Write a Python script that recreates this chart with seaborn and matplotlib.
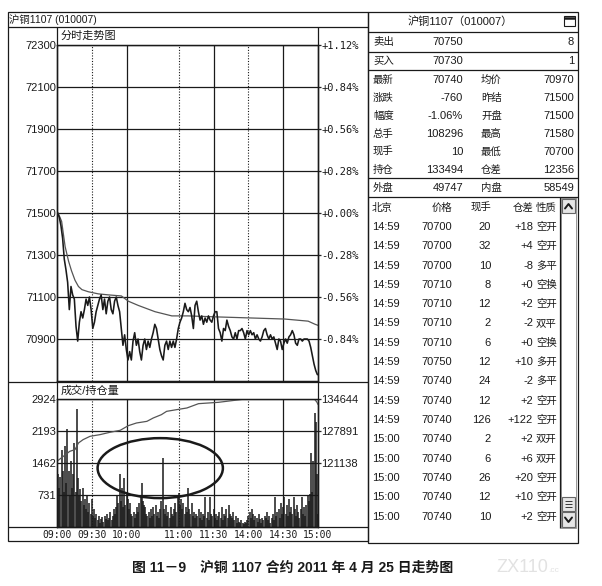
import numpy as np
import matplotlib.pyplot as plt
from matplotlib.patches import Rectangle, Ellipse
import seaborn as sns

W, H = 602, 586
INK = '#1a1a1a'

# ---- data ----
# price, sampled roughly every 1.44 trading minutes from 09:00 to 15:00
price_close = [
    71500, 71480, 71440, 71380, 71280, 71230, 71170, 71040, 71150, 71110,
    71090, 70960, 70890, 70980, 71030, 71000, 71040, 71090, 71060, 71100,
    71040, 70950, 70980, 71030, 71060, 71090, 71110, 71040, 71090, 71020,
    71080, 71100, 71040, 71020, 71080, 71100, 71060, 71030, 70950, 70870,
    70920, 70850, 70800, 70840, 70800, 70890, 70930, 70870, 70900, 70840,
    70800, 70870, 70900, 70850, 70890, 70860, 70900, 70930, 70970, 70950,
    70900, 70850, 70820, 70800, 70870, 70890, 70850, 70890, 70860, 70890,
    70860, 70900, 70950, 70980, 71000, 71030, 71070, 71040,
    71030, 71050, 71010, 70950, 71060, 71080, 71030, 70990, 71010, 70970,
    71000, 70980, 71010, 70990, 70980, 71010, 71030, 71030, 70950, 70930,
    70890, 70950, 70940, 70990, 70960, 70940, 70910, 70900, 70930, 70900,
    70940, 70940, 70950, 70930, 70900, 70940, 70920, 70940, 70920, 70930,
    70900, 70920, 70900, 70890, 70910, 70940, 70950, 70920, 70900, 70920,
    70900, 70910, 70880, 70850, 70900, 70890, 70850, 70880, 70900, 70880,
    70910, 70920, 70940, 70920, 70880, 70870, 70900, 70900, 70890, 70900,
    70900, 70900, 70890, 70860, 70820, 70780, 70750, 70730,
]
price_minutes = np.linspace(0.5, 224.5, len(price_close))

avg_minutes = [0, 1, 4, 7, 10, 12.5, 15.5, 18.5, 21.5, 27, 35.5, 44.5, 55.5,
               61.5, 70, 84.5, 99, 113, 139, 168, 196.5, 216.5, 222.5, 225]
avg_prices = [71500, 71500, 71460, 71340, 71270, 71225, 71180, 71150, 71135,
              71125, 71115, 71110, 71105, 71080, 71060, 71030, 71010, 71010,
              71005, 71000, 70995, 70985, 70970, 70965]

# traded volume, one bar per trading minute
volume = [
    1462, 1200, 900, 1150, 1750, 1280, 800, 1850, 1000, 2230, 1280, 700, 1500, 900, 1200,
    1930, 800, 2700, 1130, 700, 860, 600, 900, 500, 650, 400, 700, 350, 550, 300,
    650, 250, 400, 200, 300, 150, 250, 100, 180, 220, 120, 250, 180, 300, 150,
    200, 350, 150, 250, 400, 300, 450, 700, 550, 1220, 600, 900, 450, 1110, 500,
    800, 650, 400, 550, 300, 250, 350, 200, 300, 450, 350, 550, 700, 1000, 600,
    500, 450, 300, 250, 350, 200, 400, 250, 450, 300, 500, 250, 350, 200, 400,
    600, 1580, 400, 300, 500, 250, 350, 200, 450, 300, 250, 400, 550, 350, 700,
    780, 500, 650, 400, 550, 300, 450, 350, 900, 400, 300, 550, 250, 350, 200,
    300, 250, 400, 200, 350, 150, 300, 250, 680, 200, 350, 150, 680, 300, 250,
    400, 200, 300, 150, 250, 350, 200, 450, 150, 300, 250, 400, 200, 500, 300,
    250, 200, 350, 150, 250, 100, 200, 120, 80, 150, 100, 60, 120, 80, 150,
    250, 350, 200, 400, 300, 150, 250, 200, 120, 300, 180, 100, 200, 150, 250,
    200, 350, 150, 250, 100, 200, 300, 150, 680, 250, 350, 400, 200, 550, 300,
    450, 680, 300, 500, 250, 650, 350, 450, 300, 680, 400, 250, 500, 350, 200,
    400, 680, 300, 450, 250, 500, 715, 600, 750, 1700, 800, 1500, 2600, 2400, 1200, 300,
]

oi_minutes = [0, 5.5, 11, 15.5, 18.5, 22.5, 28.5, 37, 45.5, 54.5, 61.5, 68.5,
              77.5, 83, 90, 94.5, 103, 112, 122, 139, 153, 162, 200, 222, 224, 225]
oi_values = [121500, 122550, 123600, 123960, 125360, 126070, 126770, 127120,
             127610, 128040, 129020, 129580, 129930, 130640, 131340, 132040,
             132390, 132750, 133660, 133940, 134360, 134640, 134640, 134600,
             134000, 133494]

prev_settle = 71500
price_ticks = [70900, 71100, 71300, 71500, 71700, 71900, 72100, 72300]
price_range = (70700, 72300)
vol_ticks = [731, 1462, 2193, 2924]
oi_ticks = [121138, 127891, 134644]
time_ticks = [0, 30, 60, 105, 135, 165, 195, 225]
time_labels = ['09:00', '09:30', '10:00', '11:00', '11:30', '14:00', '14:30', '15:00']
dotted_minutes = [30, 105, 165]
solid_minutes = [60, 135, 195]

quote_top = [('卖出', '70750', '8'), ('买入', '70730', '1')]
quote_rows = [
    ('最新', '70740', '均价', '70970'),
    ('涨跌', '-760', '昨结', '71500'),
    ('幅度', '-1.06%', '开盘', '71500'),
    ('总手', '108296', '最高', '71580'),
    ('现手', '10', '最低', '70700'),
    ('持仓', '133494', '仓差', '12356'),
    ('外盘', '49747', '内盘', '58549'),
]
tick_header = ('北京', '价格', '现手', '仓差', '性质')
tick_rows = [
    ('14:59', '70700', '20', '+18', '空开'),
    ('14:59', '70700', '32', '+4', '空开'),
    ('14:59', '70700', '10', '-8', '多平'),
    ('14:59', '70710', '8', '+0', '空换'),
    ('14:59', '70710', '12', '+2', '空开'),
    ('14:59', '70710', '2', '-2', '双平'),
    ('14:59', '70710', '6', '+0', '空换'),
    ('14:59', '70750', '12', '+10', '多开'),
    ('14:59', '70740', '24', '-2', '多平'),
    ('14:59', '70740', '12', '+2', '空开'),
    ('14:59', '70740', '126', '+122', '空开'),
    ('15:00', '70740', '2', '+2', '双开'),
    ('15:00', '70740', '6', '+6', '双开'),
    ('15:00', '70740', '26', '+20', '空开'),
    ('15:00', '70740', '12', '+10', '空开'),
    ('15:00', '70740', '10', '+2', '空开'),
]

sns.set_style('white')
plt.rcParams['font.family'] = ['Liberation Sans', 'Noto Sans CJK SC', 'DejaVu Sans']
plt.rcParams['axes.edgecolor'] = INK
plt.rcParams['axes.linewidth'] = 0.9
MONO = ['DejaVu Sans Mono', 'Noto Sans CJK SC']


def box(x0, y0, x1, y1):
    return [x0 / W, 1 - y1 / H, (x1 - x0) / W, (y1 - y0) / H]


fig = plt.figure(figsize=(W / 100, H / 100), dpi=100)
bg = fig.add_axes([0, 0, 1, 1], zorder=0)
bg.set_xlim(0, W)
bg.set_ylim(H, 0)
bg.axis('off')


def hline(y, x0, x1, lw=0.9):
    bg.plot([x0, x1], [y, y], color=INK, lw=lw, solid_capstyle='butt')


def vline(x, y0, y1, lw=0.9):
    bg.plot([x, x], [y0, y1], color=INK, lw=lw, solid_capstyle='butt')


def frame(x0, y0, x1, y1, lw=0.9, ec=INK, fc='none'):
    bg.add_patch(Rectangle((x0, y0), x1 - x0, y1 - y0, fill=fc != 'none',
                           fc=fc, ec=ec, lw=lw))


def txt(x, y, s, size=7.5, ha='left', color=INK, **kw):
    bg.text(x, y, s, fontsize=size, ha=ha, va='center', color=color, **kw)


# ---- left panel frame ----
frame(8, 12, 368, 541)
hline(27, 8, 368)
hline(382, 8, 368)
hline(527, 8, 368)
vline(57, 27, 527)
vline(318, 27, 527)
txt(9, 20, '沪铜1107 (010007)', size=7.5)
txt(61, 36, '分时走势图', size=8)
txt(61, 391, '成交/持仓量', size=8)

# ---- price pane ----
axp = fig.add_axes(box(57, 45, 318, 381), zorder=2)
axp.set_facecolor('none')
for m in solid_minutes:
    axp.axvline(m, color=INK, lw=0.9)
for m in dotted_minutes:
    axp.axvline(m, color=INK, lw=0.8, ls=(0, (1, 1.5)))
for p in price_ticks:
    axp.axhline(p, color=INK, lw=0.9)
sns.lineplot(x=avg_minutes, y=avg_prices, ax=axp, color='#555555', lw=0.9,
             estimator=None, sort=False)
sns.lineplot(x=price_minutes, y=price_close, ax=axp, color=INK, lw=1.15,
             estimator=None, sort=False)
axp.set_xlim(0, 225)
axp.set_ylim(*price_range)
axp.set_xticks([])
axp.set_yticks(price_ticks)
axp.set_yticklabels([str(p) for p in price_ticks])
axp.tick_params(axis='y', length=0, pad=0.5, labelsize=8, labelcolor=INK)
axp.set_xlabel('')
axp.set_ylabel('')

axpr = axp.twinx()
axpr.set_ylim(*price_range)
axpr.set_yticks(price_ticks)
axpr.set_yticklabels([f'{(p - prev_settle) / prev_settle * 100:+.2f}%' for p in price_ticks],
                     fontfamily=MONO)
axpr.tick_params(axis='y', length=2, width=0.9, pad=0.5, labelsize=7.5, labelcolor=INK)

# ---- volume / open interest pane ----
axv = fig.add_axes(box(57, 399, 318, 527), zorder=2)
axv.set_facecolor('none')
for m in solid_minutes:
    axv.axvline(m, color=INK, lw=0.9)
for m in dotted_minutes:
    axv.axvline(m, color=INK, lw=0.8, ls=(0, (1, 1.5)))
for v in vol_ticks:
    axv.axhline(v, color=INK, lw=0.9)
axv.vlines(np.arange(len(volume)), 0, volume, color=INK, lw=1.1)
axv.set_xlim(0, 225)
axv.set_ylim(0, vol_ticks[-1])
axv.set_yticks(vol_ticks)
axv.set_yticklabels([str(v) for v in vol_ticks])
axv.set_xticks(time_ticks)
axv.set_xticklabels(time_labels, fontfamily=MONO)
axv.tick_params(axis='y', length=0, pad=0.5, labelsize=8, labelcolor=INK)
axv.tick_params(axis='x', length=0, pad=2.5, labelsize=7, labelcolor=INK)
axv.add_patch(Ellipse((89, 1345), 108, 1370, fill=False, ec=INK, lw=1.8, zorder=5))

oi_step = oi_ticks[1] - oi_ticks[0]
axvr = axv.twinx()
sns.lineplot(x=oi_minutes, y=oi_values, ax=axvr, color='#555555', lw=0.9,
             estimator=None, sort=False)
axvr.set_ylim(oi_ticks[-1] - 4 * oi_step, oi_ticks[-1])
axvr.set_yticks(oi_ticks)
axvr.set_yticklabels([str(v) for v in oi_ticks])
axvr.tick_params(axis='y', length=2, width=0.9, pad=0.5, labelsize=8, labelcolor=INK)
axvr.set_ylabel('')

# ---- right panel: quote board ----
frame(368, 12, 578, 543)
for y in (32, 52, 70, 178, 197):
    hline(y, 368, 578)
txt(460, 22, '沪铜1107（010007）', size=8, ha='center')
frame(564, 16, 575, 26, lw=0.8)
hline(18, 564, 575, lw=1.8)

for (lbl, val, qty), y in zip(quote_top, (42, 61)):
    txt(373, y, lbl)
    txt(463, y, val, size=8, ha='right')
    txt(574, y, qty, size=8, ha='right')

for i, (l1, v1, l2, v2) in enumerate(quote_rows):
    y = 80 + 18 * i if i < 6 else 188
    txt(373, y, l1)
    txt(463, y, v1, size=8, ha='right')
    txt(481, y, l2)
    txt(574, y, v2, size=8, ha='right')

# ---- right panel: tick list ----
cols = [(372, 'left'), (452, 'right'), (491, 'right'), (533, 'right'), (536, 'left')]
for (x, ha), s in zip(cols, tick_header):
    txt(x, 208, s, ha=ha)
for k, row in enumerate(tick_rows):
    y = 227 + 19.3 * k
    for j, ((x, ha), s) in enumerate(zip(cols, row)):
        txt(x, y, s, size=7.5 if j == 4 else 8, ha=ha)

# scroll bar
vline(560, 197, 528)
frame(561, 198, 576, 528, lw=0.6, ec='#888888')
frame(562, 199, 575, 213, lw=0.8, ec='#666666', fc='#e6e6e6')
bg.plot([565, 568.5, 572], [208.5, 204, 208.5], color=INK, lw=1.4)
frame(562, 497, 575, 511, lw=0.8, ec='#666666', fc='#e6e6e6')
for y in (501, 504, 507):
    hline(y, 565, 572, lw=0.6)
frame(562, 512, 575, 527, lw=0.8, ec='#666666', fc='#e6e6e6')
bg.plot([565, 568.5, 572], [517.5, 522, 517.5], color=INK, lw=1.4)

# ---- caption ----
txt(293, 568, '图 11－9　沪铜 1107 合约 2011 年 4 月 25 日走势图', size=10,
    ha='center', fontweight='bold')
txt(496, 567, 'ZX110', size=13, color='#e2e2e2')
txt(548, 570, '.cc', size=6, color='#e2e2e2')

fig.savefig('out.png', dpi=100)
